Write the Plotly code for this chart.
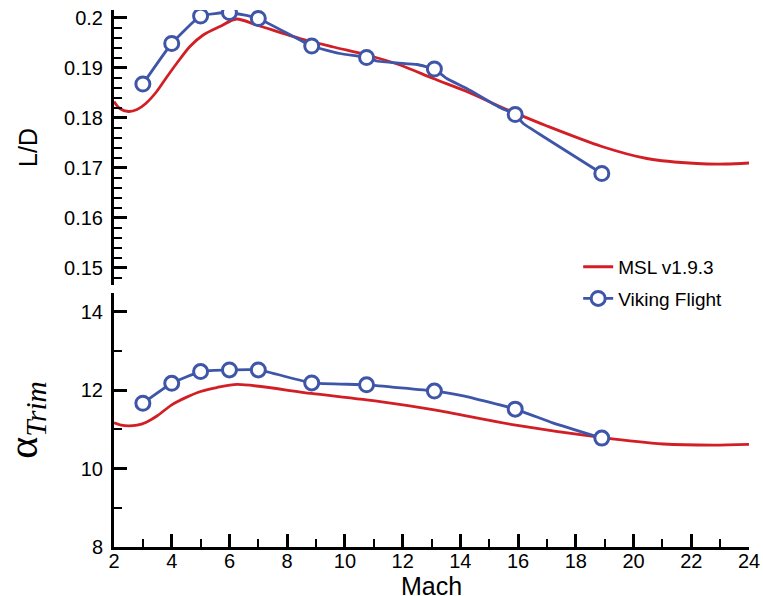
import plotly.graph_objects as go

# Viking flight reconstruction: marker stations
viking_mach = [3.0, 4.0, 5.0, 6.0, 7.0, 8.85, 10.75, 13.1, 15.9, 18.9]
viking_ld = [0.1867, 0.1948, 0.2003, 0.2010, 0.1998, 0.1943, 0.1920, 0.1897, 0.1806, 0.1688]
viking_alpha = [11.67, 12.18, 12.48, 12.52, 12.52, 12.19, 12.14, 11.98, 11.52, 10.78]

# Viking flight path between stations
viking_ld_path_mach = [3.0, 4.0, 5.0, 6.0, 7.0, 8.85, 9.83, 10.75, 11.1, 11.8, 12.5, 13.1,
                       13.53, 14.22, 15.37, 15.9, 16.18, 16.87, 18.9]
viking_ld_path = [0.1867, 0.1948, 0.2003, 0.2010, 0.1998, 0.1943, 0.1928, 0.1920, 0.1913,
                  0.1909, 0.1906, 0.1897, 0.1878, 0.1858, 0.1820, 0.1806, 0.1788, 0.1762, 0.1688]
viking_alpha_path_mach = [3.0, 4.0, 5.0, 6.0, 7.0, 8.85, 10.75, 13.1, 14.1, 15.9, 17.2, 18.9]
viking_alpha_path = [11.67, 12.18, 12.48, 12.52, 12.52, 12.19, 12.14, 11.98, 11.86, 11.52, 11.17, 10.78]

# MSL aerodatabase v1.9.3 prediction
msl_ld_mach = [2.0, 2.2, 2.5, 2.8, 3.1, 3.48, 3.83, 4.17, 4.63, 5.09, 5.67, 6.24, 6.94, 8.44,
               9.6, 10.76, 11.91, 13.06, 14.22, 15.37, 15.9, 17.0, 18.9, 20.46, 22.2, 23.2, 24.0]
msl_ld = [0.1832, 0.1818, 0.1812, 0.1816, 0.1828, 0.1852, 0.1881, 0.1908, 0.1942, 0.1965,
          0.1982, 0.1997, 0.1985, 0.1958, 0.1941, 0.1925, 0.1905, 0.1878, 0.1852, 0.1822,
          0.1809, 0.1783, 0.1742, 0.1718, 0.1708, 0.1707, 0.1709]
msl_alpha_mach = [2.0, 2.25, 2.5, 2.8, 3.1, 3.5, 4.0, 4.5, 5.0, 5.56, 6.27, 8.83, 11.22, 13.1,
                  15.92, 18.93, 21.03, 22.77, 24.0]
msl_alpha = [11.17, 11.11, 11.09, 11.11, 11.18, 11.35, 11.63, 11.82, 11.97, 12.07, 12.15,
             11.92, 11.71, 11.50, 11.11, 10.79, 10.63, 10.60, 10.62]

RED = "#d21f26"
BLUE = "#3f56a8"
SANS = "Liberation Sans, Arial, Helvetica, sans-serif"
SERIF = "Liberation Serif, Times New Roman, serif"

fig = go.Figure()

# MSL curves
fig.add_trace(go.Scatter(x=msl_ld_mach, y=msl_ld, xaxis="x2", yaxis="y2", mode="lines",
                         line=dict(color=RED, width=2.8, shape="spline", smoothing=0.8),
                         name="MSL v1.9.3", legendgroup="msl"))
fig.add_trace(go.Scatter(x=msl_alpha_mach, y=msl_alpha, xaxis="x", yaxis="y", mode="lines",
                         line=dict(color=RED, width=2.8, shape="spline", smoothing=0.8),
                         showlegend=False, legendgroup="msl"))

# Viking paths
fig.add_trace(go.Scatter(x=viking_ld_path_mach, y=viking_ld_path, xaxis="x2", yaxis="y2",
                         mode="lines", line=dict(color=BLUE, width=2.8, shape="spline", smoothing=0.4),
                         showlegend=False, legendgroup="viking"))
fig.add_trace(go.Scatter(x=viking_alpha_path_mach, y=viking_alpha_path, xaxis="x", yaxis="y",
                         mode="lines", line=dict(color=BLUE, width=2.8, shape="spline", smoothing=0.4),
                         showlegend=False, legendgroup="viking"))

marker_style = dict(symbol="circle", size=14, color="white", line=dict(color=BLUE, width=3))
fig.add_trace(go.Scatter(x=viking_mach, y=viking_ld, xaxis="x2", yaxis="y2", mode="markers",
                         marker=marker_style, showlegend=False, legendgroup="viking"))
fig.add_trace(go.Scatter(x=viking_mach, y=viking_alpha, xaxis="x", yaxis="y", mode="markers",
                         marker=marker_style, showlegend=False, legendgroup="viking"))
# legend entry for the flight data
fig.add_trace(go.Scatter(x=[None], y=[None], mode="lines+markers", name="Viking Flight",
                         line=dict(color=BLUE, width=2.8), marker=marker_style,
                         legendgroup="viking"))

tick_font = dict(family=SANS, size=20, color="black")
axis_common = dict(showline=True, linecolor="black", linewidth=3, ticks="inside",
                   ticklen=13, tickwidth=3, tickcolor="black", showgrid=False,
                   zeroline=False, tickfont=tick_font, automargin=False)
minor_common = dict(ticks="inside", ticklen=8, tickwidth=1.5, tickcolor="black")

fig.update_layout(
    width=763, height=596,
    margin=dict(l=114, r=14, t=10, b=49),
    paper_bgcolor="white", plot_bgcolor="white",
    showlegend=True,
    legend=dict(x=0.731, y=0.557, xanchor="left", yanchor="top",
                font=dict(family=SANS, size=19, color="black"),
                bgcolor="rgba(0,0,0,0)", tracegroupgap=4),
    xaxis=dict(domain=[0, 1], anchor="y", range=[2, 24], dtick=2, tick0=2,
               minor=dict(dtick=1, **minor_common), ticklabelstandoff=-6,
               **axis_common),
    yaxis=dict(domain=[0, 0.473], anchor="x", range=[8, 14.485], dtick=2, tick0=8,
               minor=dict(dtick=1, **minor_common), ticklabelstandoff=4,
               title=dict(text="α<sub><i>Trim</i></sub>",
                          font=dict(family=SERIF, size=42, color="black"), standoff=33),
               **axis_common),
    xaxis2=dict(domain=[0, 1], anchor="y2", range=[2, 24], matches="x", visible=False),
    yaxis2=dict(domain=[0.4879, 1], anchor="x2", range=[0.1465, 0.2015], dtick=0.01, tick0=0.15,
                minor=dict(dtick=0.002, **minor_common), ticklabelstandoff=4,
                title=dict(text="L/D", font=dict(family=SANS, size=25, color="black"), standoff=20),
                **axis_common),
    annotations=[dict(text="Mach", xref="paper", yref="paper", x=0.5, y=0,
                      xanchor="center", yanchor="top", yshift=-23, showarrow=False,
                      font=dict(family=SANS, size=25, color="black"))],
)

fig.write_html("out.html")
